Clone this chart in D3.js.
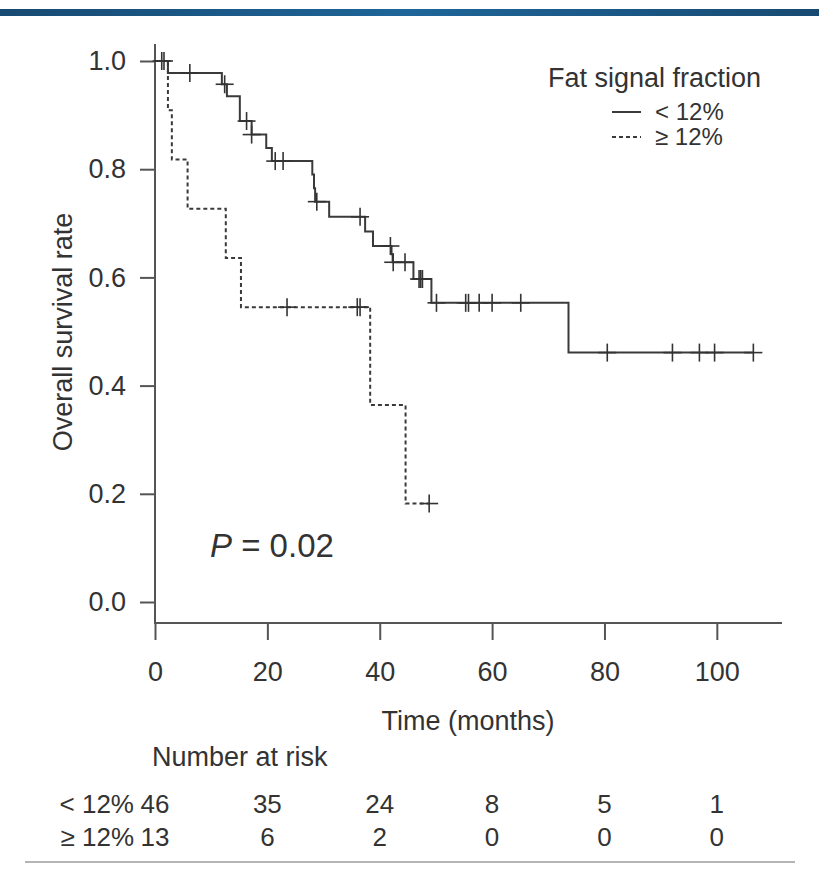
<!DOCTYPE html>
<html>
<head>
<meta charset="utf-8">
<script src="https://cdn.jsdelivr.net/npm/d3@7"></script>
<style>
  body { margin: 0; background: #fff; }
  text { font-family: "Liberation Sans", Arial, sans-serif; fill: #333; }
</style>
</head>
<body>
<div id="chart"></div>
<script>
// groups
var groups = ["< 12%", "\u2265 12%"];

// fat signal fraction < 12% : step times and survival after each drop
var lowTimes = [0, 2.3, 11.9, 12.8, 15.1, 17.2, 19.8, 20.8, 28.0, 28.3, 28.5, 31.0, 37.4, 38.8, 42.1, 42.3, 46.0, 49.2, 73.6, 106.5];
var lowSurv  = [1, 0.978, 0.957, 0.935, 0.889, 0.864, 0.839, 0.815, 0.790, 0.765, 0.740, 0.712, 0.685, 0.658, 0.643, 0.628, 0.597, 0.553, 0.461, 0.461];
var lowCensor = [6.2, 12.4, 16.3, 17.2, 21.4, 22.8, 28.8, 36.5, 41.9, 42.4, 44.5, 47.0, 47.3, 47.6, 50.1, 55.3, 55.8, 57.7, 60.0, 65.1, 80.5, 92.1, 96.9, 99.6, 106.5];

// fat signal fraction >= 12%
var highTimes = [0, 2.3, 3.0, 5.8, 12.6, 15.3, 38.3, 44.6, 48.8];
var highSurv  = [1, 0.909, 0.818, 0.727, 0.636, 0.545, 0.364, 0.182, 0.182];
var highCensor = [1.2, 1.6, 23.5, 36.0, 36.5, 48.8];

// axes
var xTicks = [0, 20, 40, 60, 80, 100];
var yTicks = [0, 0.2, 0.4, 0.6, 0.8, 1.0];

// number at risk
var riskTimes = [0, 20, 40, 60, 80, 100];
var riskLow = [46, 35, 24, 8, 5, 1];
var riskHigh = [13, 6, 2, 0, 0, 0];

var W = 819, H = 880;
var svg = d3.select("#chart").append("svg")
  .attr("width", W)
  .attr("height", H);

// top banner
var grad = svg.append("defs").append("linearGradient").attr("id", "bar");
grad.append("stop").attr("offset", "0%").attr("stop-color", "#174a72");
grad.append("stop").attr("offset", "50%").attr("stop-color", "#1e6599");
grad.append("stop").attr("offset", "100%").attr("stop-color", "#174a72");
svg.append("rect").attr("x", 0).attr("y", 9).attr("width", W).attr("height", 7).attr("fill", "url(#bar)");

var x = d3.scaleLinear().domain([0, 111.6]).range([155, 782]);
var y = d3.scaleLinear().domain([0, 1]).range([602, 61]);

var axisColor = "#555";

// y axis
var yAx = svg.append("g")
  .attr("transform", "translate(155,0)")
  .call(d3.axisLeft(y).tickValues(yTicks).tickSize(15).tickPadding(14).tickFormat(d3.format(".1f")));
yAx.select(".domain").remove();
yAx.selectAll("line").attr("stroke", axisColor).attr("stroke-width", 2);
yAx.selectAll("text").style("font-size", "27px").attr("fill", "#333");
svg.append("line").attr("x1", 155).attr("x2", 155).attr("y1", 44).attr("y2", 623)
  .attr("stroke", axisColor).attr("stroke-width", 2);

// x axis
var xAx = svg.append("g")
  .attr("transform", "translate(0,623)")
  .call(d3.axisBottom(x).tickValues(xTicks).tickSize(17).tickPadding(22));
xAx.select(".domain").remove();
xAx.selectAll("line").attr("stroke", axisColor).attr("stroke-width", 2);
xAx.selectAll("text").style("font-size", "27px").attr("fill", "#333");
svg.append("line").attr("x1", 154).attr("x2", 782).attr("y1", 623).attr("y2", 623)
  .attr("stroke", axisColor).attr("stroke-width", 2);

// axis titles
svg.append("text")
  .attr("x", 468).attr("y", 730)
  .attr("text-anchor", "middle")
  .style("font-size", "27px")
  .text("Time (months)");
svg.append("text")
  .attr("transform", "translate(72,332) rotate(-90)")
  .attr("text-anchor", "middle")
  .style("font-size", "27px")
  .text("Overall survival rate");

// curves
var line = d3.line()
  .x(function(d){ return x(d[0]); })
  .y(function(d){ return y(d[1]); })
  .curve(d3.curveStepAfter);

var series = [
  {name: groups[0], t: lowTimes, s: lowSurv, c: lowCensor, dash: null},
  {name: groups[1], t: highTimes, s: highSurv, c: highCensor, dash: "4,3"}
];

series.forEach(function(sr){
  var pts = sr.t.map(function(t, i){ return [t, sr.s[i]]; });
  svg.append("path")
    .datum(pts)
    .attr("d", line)
    .attr("fill", "none")
    .attr("stroke", "#3a3a3a")
    .attr("stroke-width", 2)
    .attr("stroke-dasharray", sr.dash);

  // censor marks at survival value in effect
  var marks = sr.c.map(function(t){
    var i = d3.bisectRight(sr.t, t) - 1;
    return [t, sr.s[Math.max(i, 0)]];
  });
  var g = svg.append("g");
  marks.forEach(function(m){
    var cx = x(m[0]), cy = y(m[1]);
    g.append("line").attr("x1", cx).attr("x2", cx).attr("y1", cy - 9).attr("y2", cy + 9)
      .attr("stroke", "#333").attr("stroke-width", 1.6);
    g.append("line").attr("x1", cx - 9).attr("x2", cx + 9).attr("y1", cy).attr("y2", cy)
      .attr("stroke", "#333").attr("stroke-width", 1.6);
  });
});

// legend
svg.append("text").attr("x", 548).attr("y", 87).style("font-size", "27px").text("Fat signal fraction");
series.forEach(function(sr, i){
  var ly = 112 + i * 25;
  svg.append("line").attr("x1", 612).attr("x2", 641).attr("y1", ly).attr("y2", ly)
    .attr("stroke", "#3a3a3a").attr("stroke-width", 2).attr("stroke-dasharray", sr.dash);
  svg.append("text").attr("x", 655).attr("y", ly + 8).style("font-size", "24px").text(sr.name);
});

// p value
var p = svg.append("text").attr("x", 210).attr("y", 557).style("font-size", "33px").attr("fill", "#111");
p.append("tspan").style("font-style", "italic").text("P");
p.append("tspan").text(" = 0.02");

// number at risk table
svg.append("text").attr("x", 152).attr("y", 766).style("font-size", "27px").text("Number at risk");
[riskLow, riskHigh].forEach(function(row, i){
  var ry = 813 + i * 33;
  svg.append("text").attr("x", 134).attr("y", ry).attr("text-anchor", "end")
    .style("font-size", "26px").text(groups[i]);
  svg.selectAll(null)
    .data(row)
    .enter().append("text")
      .attr("x", function(d, j){ return x(riskTimes[j]); })
      .attr("y", ry)
      .attr("text-anchor", "middle")
      .style("font-size", "26px")
      .text(function(d){ return d; });
});

svg.append("line").attr("x1", 25).attr("x2", 795).attr("y1", 862).attr("y2", 862)
  .attr("stroke", "#b5b5b5").attr("stroke-width", 2);
</script>
</body>
</html>
